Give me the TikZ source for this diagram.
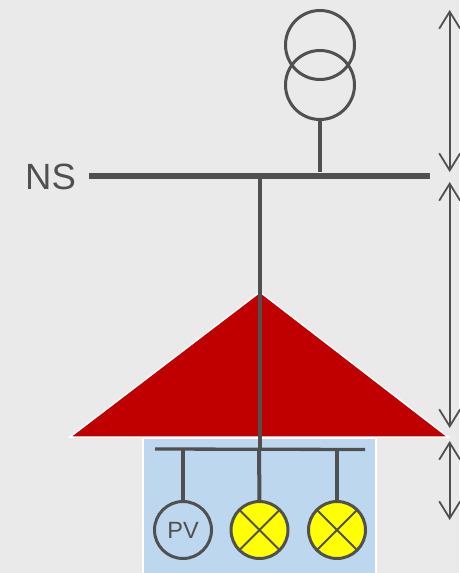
\documentclass[tikz,border=0pt]{standalone}
\usepackage{fontspec}
\setmainfont{Liberation Sans}
\usetikzlibrary{arrows.meta}
\definecolor{bgc}{HTML}{EAEAEA}
\definecolor{ink}{HTML}{505050}
\definecolor{roofc}{HTML}{C00000}
\definecolor{housec}{HTML}{BDD7EE}
\definecolor{lampc}{HTML}{FFFF00}
\tikzset{
  x=1pt,y=-1pt,
  busbar/.style={draw=ink,line width=6pt},
  subbus/.style={draw=ink,line width=3.3pt},
  feeder/.style={draw=ink,line width=4pt},
  ring/.style={circle,draw=ink,line width=3pt,minimum size=#1,inner sep=0pt,outer sep=0pt},
  lamp/.style={ring=57pt,fill=lampc},
  dim/.style={draw=ink,line width=2pt,{Straight Barb[length=17pt,width=21pt,line width=1.8pt]}-{Straight Barb[length=17pt,width=21pt,line width=1.8pt]}},
  cross/.style={draw=ink,line width=2pt}
}
\begin{document}
\begin{tikzpicture}
\useasboundingbox (0,0) rectangle (459,573);
\fill[bgc] (0,0) rectangle (459,573);
% house
\filldraw[fill=housec,draw=white,line width=1.5pt] (143,574) -- (143,438) -- (376,438) -- (376,574);
% roof
\filldraw[fill=roofc,draw=white,line width=1.5pt,line join=miter] (260,292) -- (448,437) -- (70,437) -- cycle;
% transformer
\node[ring=69pt] (t1) at (320,45) {};
\node[ring=69pt] (t2) at (320,85) {};
% busbars
\coordinate (nsL) at (89,176);
\coordinate (nsR) at (430,176);
\coordinate (nsT) at (320,172);
\coordinate (nsD) at (260,176);
\coordinate (lvL) at (155,449);
\coordinate (lvR) at (365,449.5);
\coordinate (lvD) at (260,450);
\coordinate (lvA) at (183,449);
\coordinate (lvB) at (259,449);
\coordinate (lvC) at (337,449);
\draw[feeder] (t2.south) -- (nsT);
\draw[feeder] (nsD) -- (lvD);
\draw[busbar] (nsL) -- (nsR);
\draw[subbus] (lvL) -- (lvR);
% loads
\node[ring=57pt,text=ink,font=\fontsize{23.5}{26}\selectfont] (pv) at (183,530) {PV};
\node[lamp] (l1) at (259.5,530) {};
\node[lamp] (l2) at (337,530) {};
\draw[cross] (l1.45) -- (l1.225) (l1.135) -- (l1.315);
\draw[cross] (l2.45) -- (l2.225) (l2.135) -- (l2.315);
\draw[feeder] (lvA) -- (pv.north);
\draw[feeder] (lvB) -- (l1.north);
\draw[feeder] (lvC) -- (l2.north);
% label
\node[text=ink,font=\fontsize{36.5}{40}\selectfont,inner sep=0pt] (ns) at (50.5,177) {NS};
% dimension arrows
\coordinate (a1) at (449.7,10);
\coordinate (a2) at (449.7,172);
\coordinate (a3) at (449.7,182);
\coordinate (a4) at (449.7,428);
\coordinate (a5) at (449.7,441);
\coordinate (a6) at (449.7,520);
\draw[dim] (a1) -- (a2);
\draw[dim] (a3) -- (a4);
\draw[dim] (a5) -- (a6);
\end{tikzpicture}
\end{document}
